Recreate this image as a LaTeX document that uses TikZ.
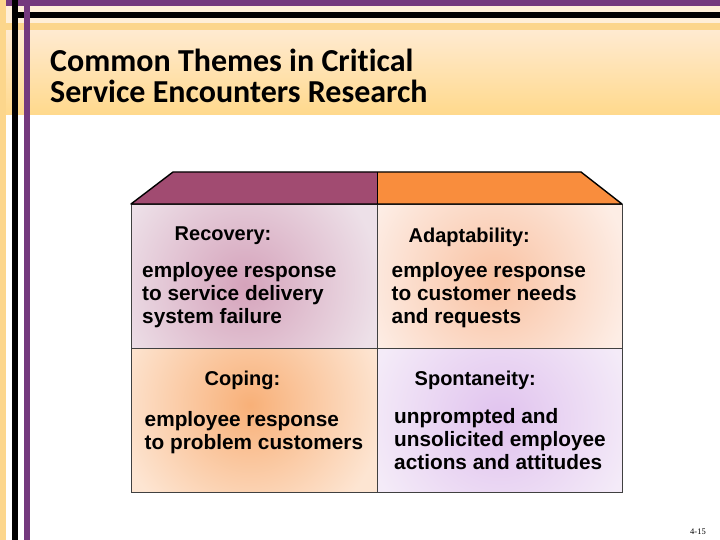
\documentclass[tikz,border=0pt]{standalone}
\usepackage{fontspec}
\setmainfont{Liberation Sans}
\newfontfamily\titlefont[Ligatures=NoCommon]{Carlito}
\newfontfamily\pagefont{Liberation Serif}
\usetikzlibrary{positioning}
\definecolor{Violet}{HTML}{74397E}
\definecolor{Cream}{HTML}{FFEFD8}
\definecolor{Sand}{HTML}{FCD68C}
\definecolor{HeadTop}{HTML}{FFEAD0}
\definecolor{HeadBot}{HTML}{FFD98C}
\definecolor{Plum}{HTML}{A14B71}
\definecolor{Tangerine}{HTML}{F98D3D}
\definecolor{RecIn}{HTML}{D5A3BB}
\definecolor{RecOut}{HTML}{EDE0E8}
\definecolor{AdaIn}{HTML}{F9C2A2}
\definecolor{AdaOut}{HTML}{FDEDE5}
\definecolor{CopIn}{HTML}{F8B078}
\definecolor{CopOut}{HTML}{FDE5D2}
\definecolor{SpoIn}{HTML}{E0C2EE}
\definecolor{SpoOut}{HTML}{F4EBF8}

\begin{document}
\begin{tikzpicture}[x=1pt,y=-1pt, every node/.style={inner sep=0pt},
head/.style={anchor=west,font=\fontsize{20}{22}\selectfont\bfseries},
body/.style={anchor=west,align=left,font=\fontsize{20.8}{23}\selectfont\bfseries},
cellline/.style={draw=black!75,line width=0.8pt}]
\useasboundingbox (0,0) rectangle (720,540);
\fill[white] (0,0) rectangle (720,540);
% slide header
\fill[Cream] (0,0) rectangle (720,31);
\fill[Sand] (0,23) rectangle (720,31);
\shade[top color=HeadTop,bottom color=HeadBot] (0,31) rectangle (720,115);
\fill[Violet] (6,0) rectangle (720,6);
\fill[black] (12,12) rectangle (720,18);
\fill[Sand] (0,0) rectangle (6,540);
\fill[black] (12,0) rectangle (18,540);
\fill[Violet] (24,0) rectangle (30,540);
\node[anchor=base west,align=left,font=\titlefont\fontsize{32}{31.5}\selectfont\bfseries] (title) at (50,103)
  {Common Themes in Critical\\Service Encounters Research};
% four cells
\foreach \xa/\ya/\xb/\yb/\cx/\cy/\cin/\cout in {
  131/204/377/348/245/285/RecIn/RecOut, 377/204/622/348/495/280/AdaIn/AdaOut,
  131/348/377/492/250/405/CopIn/CopOut, 377/348/622/492/500/420/SpoIn/SpoOut}{
  \begin{scope}
    \clip (\xa,\ya) rectangle (\xb,\yb);
    \fill[\cout] (\xa,\ya) rectangle (\xb,\yb);
    \shade[inner color=\cin,outer color=\cout] (\cx,\cy) circle (135);
  \end{scope}
}
\draw[cellline] (131,204) rectangle (622,492);
\draw[cellline] (377,204) -- (377,492);
\draw[cellline] (131,348) -- (622,348);
% roof of the table
\fill[Plum] (131,204) -- (173,172) -- (377,172) -- (377,204) -- cycle;
\fill[Tangerine] (377,172) -- (581,172) -- (622,204) -- (377,204) -- cycle;
\draw[line width=1.4pt,line join=round] (131,204) -- (173,172) -- (581,172) -- (622,204) -- cycle;
\draw[line width=1pt] (377,172) -- (377,204);
% texts
\node[head] (rechead) at (174.5,236) {Recovery:};
\node[body] (recbody) at (142,295) {employee response\\to service delivery\\system failure};
\node[head] (adahead) at (408.5,237) {Adaptability:};
\node[body] (adabody) at (391.5,295) {employee response\\to customer needs\\and requests};
\node[head] (cophead) at (204.5,380.5) {Coping:};
\node[body] (copbody) at (144.5,433) {employee response\\to problem customers};
\node[head] (spohead) at (414.5,380.5) {Spontaneity:};
\node[body] (spobody) at (394,439.5) {unprompted and\\unsolicited employee\\actions and attitudes};
\node[anchor=base east,font=\pagefont\fontsize{8.5}{10}\selectfont] (pageno) at (706,534) {4-15};
\end{tikzpicture}
\end{document}
